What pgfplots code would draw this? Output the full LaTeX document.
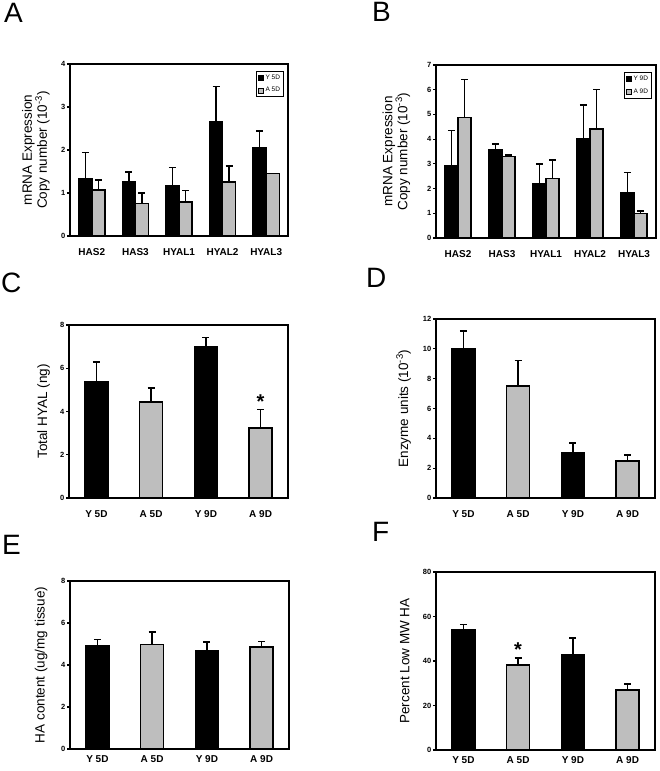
\documentclass[border=0pt]{standalone}
\usepackage{fontspec}
\setmainfont{Liberation Sans}
\usepackage{pgfplots}
\pgfplotsset{compat=1.18}
\definecolor{bargray}{RGB}{190,190,190}

\pgfplotsset{
  panel/.style={
    scale only axis,
    ybar,
    ymin=0,
    axis line style={line width=1.5pt},
    tick align=outside,
    ytick pos=left,
    xtick pos=bottom,
    x tick style={draw=none},
    y tick style={line width=1.1pt, black},
    major tick length=3pt,
    /pgf/number format/assume math mode=true,
    yticklabel style={font=\bfseries\fontsize{7.5}{9}\selectfont, inner sep=1.5pt},
    xticklabel style={font=\bfseries\fontsize{10}{12}\selectfont},
    clip=false,
  },
  ylab/.style={every axis y label/.style={at={(axis description cs:#1,0.5)}, rotate=90, anchor=center,
    font=\fontsize{13.5}{15}\selectfont, align=center}},
  ybarY/.style={fill=black, draw=black, line width=1.5pt,
    error bars/.cd, y dir=plus, y explicit,
    error bar style={line width=1.4pt, black},
    error mark options={rotate=90, line width=1.4pt, mark size=3.5pt, black}},
  ybarA/.style={fill=bargray, draw=black, line width=1.5pt,
    error bars/.cd, y dir=plus, y explicit,
    error bar style={line width=1.4pt, black},
    error mark options={rotate=90, line width=1.4pt, mark size=3.5pt, black}},
  legsq/.style={
    legend image code/.code={\draw[##1, line width=0.7pt] (0pt,-2.5pt) rectangle (5pt,2.5pt);},
    legend style={at={(1,1)}, anchor=north east, xshift=-4pt, yshift=-7pt,
      font=\fontsize{6.5}{7}\selectfont, inner sep=1.5pt, row sep=2.5pt,
      line width=0.9pt, draw=black, cells={anchor=west}},
  },
  grp5/.style={xmin=0.5, xmax=5.5, xtick={1,2,3,4,5},
    xticklabels={HAS2,HAS3,HYAL1,HYAL2,HYAL3}, bar width=0.3},
  grp4/.style={xmin=0.5, xmax=4.5, xtick={1,2,3,4},
    xticklabels={Y 5D,A 5D,Y 9D,A 9D}, bar width=0.42, bar shift=0pt},
}

\begin{document}
\begin{tikzpicture}
\useasboundingbox (0,0) rectangle (659pt,771pt);

% ---------- A ----------
\node[anchor=base west, font=\fontsize{28}{30}\selectfont, inner sep=0pt] at (4pt,748pt) {A};
\begin{axis}[panel, grp5, legsq, at={(70pt,535pt)}, anchor=south west,
  width=218pt, height=172pt, ymax=4, ytick={0,1,2,3,4}, ylab=-0.156,
  ylabel={mRNA Expression\\Copy number (10\textsuperscript{-3})},
  xticklabel style={yshift=-6pt}]
\addplot[bar shift=-0.15, ybarY] coordinates {
  (1,1.32) +- (0,0.62)
  (2,1.26) +- (0,0.23)
  (3,1.17) +- (0,0.42)
  (4,2.65) +- (0,0.82)
  (5,2.05) +- (0,0.39)
};
\addlegendentry{Y 5D}
\addplot[bar shift=0.15, ybarA] coordinates {
  (1,1.07) +- (0,0.23)
  (2,0.75) +- (0,0.25)
  (3,0.79) +- (0,0.27)
  (4,1.26) +- (0,0.37)
  (5,1.45) +- (0,0)
};
\addlegendentry{A 5D}
\end{axis}

% ---------- B ----------
\node[anchor=base west, font=\fontsize{28}{30}\selectfont, inner sep=0pt] at (372pt,749pt) {B};
\begin{axis}[panel, grp5, legsq, at={(436pt,533pt)}, anchor=south west,
  width=220pt, height=173pt, ymax=7, ytick={0,1,2,3,4,5,6,7}, ylab=-0.18,
  ylabel={mRNA Expression\\Copy number (10\textsuperscript{-3})},
  xticklabel style={yshift=-6pt}]
\addplot[bar shift=-0.15, ybarY] coordinates {
  (1,2.92) +- (0,1.43)
  (2,3.59) +- (0,0.21)
  (3,2.18) +- (0,0.81)
  (4,4.03) +- (0,1.35)
  (5,1.84) +- (0,0.80)
};
\addlegendentry{Y 9D}
\addplot[bar shift=0.15, ybarA] coordinates {
  (1,4.88) +- (0,1.53)
  (2,3.30) +- (0,0.06)
  (3,2.41) +- (0,0.75)
  (4,4.41) +- (0,1.60)
  (5,0.99) +- (0,0.10)
};
\addlegendentry{A 9D}
\end{axis}

% ---------- C ----------
\node[anchor=base west, font=\fontsize{28}{30}\selectfont, inner sep=0pt] at (1pt,478pt) {C};
\begin{axis}[panel, grp4, at={(69pt,273pt)}, anchor=south west,
  width=219pt, height=173pt, ymax=8, ytick={0,2,4,6,8}, ylab=-0.116,
  ylabel={Total HYAL (ng)},
  xticklabel style={yshift=-6pt}]
\addplot[ybarY] coordinates {
  (1,5.36) +- (0,0.93)
  (3,7.00) +- (0,0.41)
};
\addplot[ybarA] coordinates {
  (2,4.45) +- (0,0.63)
  (4,3.23) +- (0,0.86)
};
\node[anchor=north, inner sep=0pt, font=\bfseries\fontsize{20}{20}\selectfont] at (axis cs:4,4.77) {*};
\end{axis}

% ---------- D ----------
\node[anchor=base west, font=\fontsize{28}{30}\selectfont, inner sep=0pt] at (366pt,483pt) {D};
\begin{axis}[panel, grp4, at={(436pt,273pt)}, anchor=south west,
  width=219pt, height=179pt, ymax=12, ytick={0,2,4,6,8,10,12}, ylab=-0.148,
  ylabel={Enzyme units (10\textsuperscript{-3})},
  xticklabel style={yshift=-6pt}]
\addplot[ybarY] coordinates {
  (1,10.0) +- (0,1.19)
  (3,3.03) +- (0,0.65)
};
\addplot[ybarA] coordinates {
  (2,7.51) +- (0,1.71)
  (4,2.49) +- (0,0.38)
};
\end{axis}

% ---------- E ----------
\node[anchor=base west, font=\fontsize{28}{30}\selectfont, inner sep=0pt] at (2pt,216pt) {E};
\begin{axis}[panel, grp4, at={(70pt,22pt)}, anchor=south west,
  width=219pt, height=168pt, ymax=8, ytick={0,2,4,6,8}, ylab=-0.132,
  ylabel={HA content (ug/mg tissue)}]
\addplot[ybarY] coordinates {
  (1,4.93) +- (0,0.29)
  (3,4.70) +- (0,0.39)
};
\addplot[ybarA] coordinates {
  (2,4.98) +- (0,0.59)
  (4,4.85) +- (0,0.27)
};
\end{axis}

% ---------- F ----------
\node[anchor=base west, font=\fontsize{28}{30}\selectfont, inner sep=0pt] at (372pt,229pt) {F};
\begin{axis}[panel, grp4, at={(436pt,21pt)}, anchor=south west,
  width=219pt, height=178pt, ymax=80, ytick={0,20,40,60,80}, ylab=-0.142,
  ylabel={Percent Low MW HA}]
\addplot[ybarY] coordinates {
  (1,54.0) +- (0,2.3)
  (3,42.9) +- (0,7.4)
};
\addplot[ybarA] coordinates {
  (2,38.1) +- (0,3.2)
  (4,26.9) +- (0,2.8)
};
\node[anchor=north, inner sep=0pt, font=\bfseries\fontsize{20}{20}\selectfont] at (axis cs:2,48.1) {*};
\end{axis}
\end{tikzpicture}
\end{document}
